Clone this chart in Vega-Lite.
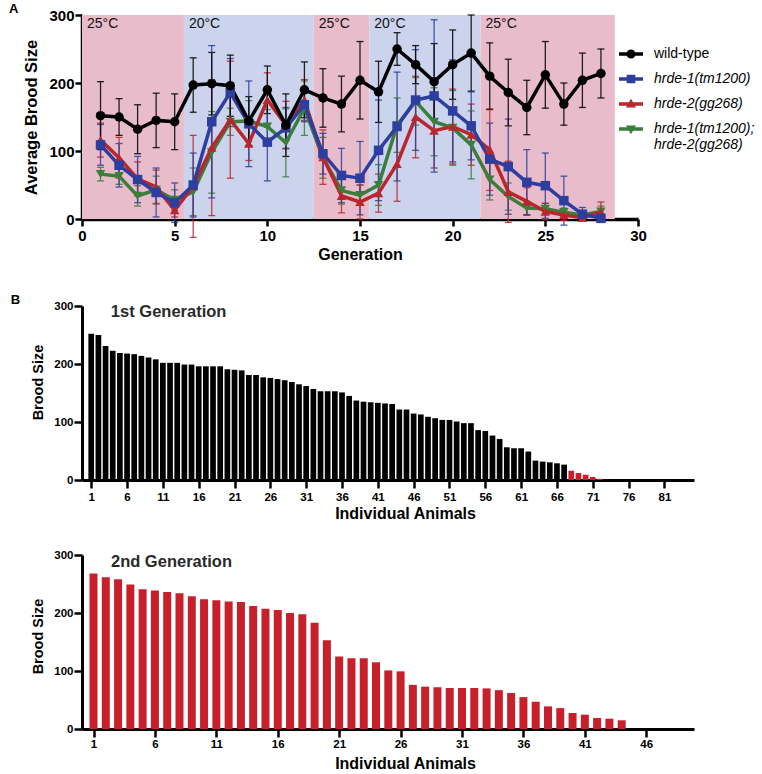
{
  "$schema": "https://vega.github.io/schema/vega-lite/v6.json",
  "background": "white",
  "padding": {"left": 8, "top": 3, "right": 0, "bottom": 0},
  "config": {
    "font": "Liberation Sans",
    "view": {"stroke": null},
    "axis": {"domainColor": "#000", "tickColor": "#000", "labelColor": "#000", "titleColor": "#000", "labelFontWeight": "bold", "titleFontWeight": "bold", "grid": false, "labelFont": "Liberation Sans", "titleFont": "Liberation Sans", "labelOverlap": false, "labelFlush": false},
    "title": {"font": "Liberation Sans", "fontWeight": "bold", "color": "#000"}
  },
  "datasets": {
    "a": [
      {"g":1,"s":"hrde-1(tm1200); hrde-2(gg268)","m":66,"e":10},{"g":2,"s":"hrde-1(tm1200); hrde-2(gg268)","m":63,"e":12},{"g":3,"s":"hrde-1(tm1200); hrde-2(gg268)","m":34,"e":15},{"g":4,"s":"hrde-1(tm1200); hrde-2(gg268)","m":43,"e":20},{"g":5,"s":"hrde-1(tm1200); hrde-2(gg268)","m":28,"e":15},{"g":6,"s":"hrde-1(tm1200); hrde-2(gg268)","m":40,"e":35},{"g":7,"s":"hrde-1(tm1200); hrde-2(gg268)","m":98,"e":60},{"g":8,"s":"hrde-1(tm1200); hrde-2(gg268)","m":143,"e":20},{"g":9,"s":"hrde-1(tm1200); hrde-2(gg268)","m":144,"e":30},{"g":10,"s":"hrde-1(tm1200); hrde-2(gg268)","m":136,"e":25},{"g":11,"s":"hrde-1(tm1200); hrde-2(gg268)","m":112,"e":50},{"g":12,"s":"hrde-1(tm1200); hrde-2(gg268)","m":163,"e":40},{"g":13,"s":"hrde-1(tm1200); hrde-2(gg268)","m":90,"e":30},{"g":14,"s":"hrde-1(tm1200); hrde-2(gg268)","m":42,"e":20},{"g":15,"s":"hrde-1(tm1200); hrde-2(gg268)","m":35,"e":15},{"g":16,"s":"hrde-1(tm1200); hrde-2(gg268)","m":50,"e":30},{"g":17,"s":"hrde-1(tm1200); hrde-2(gg268)","m":138,"e":40},{"g":18,"s":"hrde-1(tm1200); hrde-2(gg268)","m":173,"e":35},{"g":19,"s":"hrde-1(tm1200); hrde-2(gg268)","m":143,"e":50},{"g":20,"s":"hrde-1(tm1200); hrde-2(gg268)","m":134,"e":55},{"g":21,"s":"hrde-1(tm1200); hrde-2(gg268)","m":109,"e":50},{"g":22,"s":"hrde-1(tm1200); hrde-2(gg268)","m":58,"e":30},{"g":23,"s":"hrde-1(tm1200); hrde-2(gg268)","m":33,"e":20},{"g":24,"s":"hrde-1(tm1200); hrde-2(gg268)","m":16,"e":10},{"g":25,"s":"hrde-1(tm1200); hrde-2(gg268)","m":15,"e":8},{"g":26,"s":"hrde-1(tm1200); hrde-2(gg268)","m":10,"e":6},{"g":27,"s":"hrde-1(tm1200); hrde-2(gg268)","m":6,"e":4},{"g":28,"s":"hrde-1(tm1200); hrde-2(gg268)","m":11,"e":8},
      {"g":1,"s":"hrde-2(gg268)","m":116,"e":25},{"g":2,"s":"hrde-2(gg268)","m":90,"e":30},{"g":3,"s":"hrde-2(gg268)","m":59,"e":25},{"g":4,"s":"hrde-2(gg268)","m":47,"e":25},{"g":5,"s":"hrde-2(gg268)","m":13,"e":10},{"g":6,"s":"hrde-2(gg268)","m":48,"e":75},{"g":7,"s":"hrde-2(gg268)","m":105,"e":100},{"g":8,"s":"hrde-2(gg268)","m":146,"e":86},{"g":9,"s":"hrde-2(gg268)","m":111,"e":25},{"g":10,"s":"hrde-2(gg268)","m":175,"e":40},{"g":11,"s":"hrde-2(gg268)","m":138,"e":35},{"g":12,"s":"hrde-2(gg268)","m":175,"e":30},{"g":13,"s":"hrde-2(gg268)","m":91,"e":40},{"g":14,"s":"hrde-2(gg268)","m":34,"e":25},{"g":15,"s":"hrde-2(gg268)","m":25,"e":25},{"g":16,"s":"hrde-2(gg268)","m":38,"e":28},{"g":17,"s":"hrde-2(gg268)","m":81,"e":55},{"g":18,"s":"hrde-2(gg268)","m":150,"e":60},{"g":19,"s":"hrde-2(gg268)","m":130,"e":55},{"g":20,"s":"hrde-2(gg268)","m":136,"e":55},{"g":21,"s":"hrde-2(gg268)","m":124,"e":45},{"g":22,"s":"hrde-2(gg268)","m":102,"e":60},{"g":23,"s":"hrde-2(gg268)","m":40,"e":45},{"g":24,"s":"hrde-2(gg268)","m":26,"e":20},{"g":25,"s":"hrde-2(gg268)","m":11,"e":12},{"g":26,"s":"hrde-2(gg268)","m":6,"e":8},{"g":27,"s":"hrde-2(gg268)","m":2,"e":3},{"g":28,"s":"hrde-2(gg268)","m":10,"e":15},
      {"g":1,"s":"hrde-1(tm1200)","m":109,"e":30},{"g":2,"s":"hrde-1(tm1200)","m":79,"e":32},{"g":3,"s":"hrde-1(tm1200)","m":58,"e":34},{"g":4,"s":"hrde-1(tm1200)","m":39,"e":36},{"g":5,"s":"hrde-1(tm1200)","m":24,"e":29},{"g":6,"s":"hrde-1(tm1200)","m":50,"e":47},{"g":7,"s":"hrde-1(tm1200)","m":143,"e":112},{"g":8,"s":"hrde-1(tm1200)","m":186,"e":50},{"g":9,"s":"hrde-1(tm1200)","m":140,"e":63},{"g":10,"s":"hrde-1(tm1200)","m":113,"e":57},{"g":11,"s":"hrde-1(tm1200)","m":134,"e":30},{"g":12,"s":"hrde-1(tm1200)","m":168,"e":25},{"g":13,"s":"hrde-1(tm1200)","m":96,"e":30},{"g":14,"s":"hrde-1(tm1200)","m":64,"e":40},{"g":15,"s":"hrde-1(tm1200)","m":60,"e":54},{"g":16,"s":"hrde-1(tm1200)","m":101,"e":74},{"g":17,"s":"hrde-1(tm1200)","m":136,"e":80},{"g":18,"s":"hrde-1(tm1200)","m":175,"e":74},{"g":19,"s":"hrde-1(tm1200)","m":181,"e":112},{"g":20,"s":"hrde-1(tm1200)","m":159,"e":75},{"g":21,"s":"hrde-1(tm1200)","m":137,"e":50},{"g":22,"s":"hrde-1(tm1200)","m":88,"e":53},{"g":23,"s":"hrde-1(tm1200)","m":77,"e":70},{"g":24,"s":"hrde-1(tm1200)","m":54,"e":48},{"g":25,"s":"hrde-1(tm1200)","m":49,"e":48},{"g":26,"s":"hrde-1(tm1200)","m":27,"e":36},{"g":27,"s":"hrde-1(tm1200)","m":7,"e":10},{"g":28,"s":"hrde-1(tm1200)","m":1,"e":5},
      {"g":1,"s":"wild-type","m":152,"e":50},{"g":2,"s":"wild-type","m":150,"e":27},{"g":3,"s":"wild-type","m":132,"e":36},{"g":4,"s":"wild-type","m":145,"e":40},{"g":5,"s":"wild-type","m":143,"e":41},{"g":6,"s":"wild-type","m":197,"e":40},{"g":7,"s":"wild-type","m":199,"e":46},{"g":8,"s":"wild-type","m":196,"e":45},{"g":9,"s":"wild-type","m":144,"e":36},{"g":10,"s":"wild-type","m":190,"e":35},{"g":11,"s":"wild-type","m":138,"e":46},{"g":12,"s":"wild-type","m":190,"e":41},{"g":13,"s":"wild-type","m":178,"e":43},{"g":14,"s":"wild-type","m":169,"e":41},{"g":15,"s":"wild-type","m":204,"e":57},{"g":16,"s":"wild-type","m":187,"e":45},{"g":17,"s":"wild-type","m":250,"e":24},{"g":18,"s":"wild-type","m":227,"e":28},{"g":19,"s":"wild-type","m":202,"e":56},{"g":20,"s":"wild-type","m":227,"e":51},{"g":21,"s":"wild-type","m":244,"e":56},{"g":22,"s":"wild-type","m":210,"e":49},{"g":23,"s":"wild-type","m":186,"e":49},{"g":24,"s":"wild-type","m":164,"e":40},{"g":25,"s":"wild-type","m":212,"e":49},{"g":26,"s":"wild-type","m":169,"e":31},{"g":27,"s":"wild-type","m":204,"e":40},{"g":28,"s":"wild-type","m":214,"e":36}
    ],
    "bands": [
      {"t":"25°C","a":0,"b":5.5},{"t":"20°C","a":5.5,"b":12.5},{"t":"25°C","a":12.5,"b":15.5},{"t":"20°C","a":15.5,"b":21.5},{"t":"25°C","a":21.5,"b":28.75}
    ],
    "b1": [
      {"n":1,"b":252},{"n":2,"b":250},{"n":3,"b":231},{"n":4,"b":223},{"n":5,"b":219},{"n":6,"b":218},{"n":7,"b":217},{"n":8,"b":214},{"n":9,"b":211},{"n":10,"b":208},
      {"n":11,"b":202},{"n":12,"b":202},{"n":13,"b":202},{"n":14,"b":199},{"n":15,"b":199},{"n":16,"b":196},{"n":17,"b":196},{"n":18,"b":196},{"n":19,"b":196},{"n":20,"b":191},
      {"n":21,"b":190},{"n":22,"b":189},{"n":23,"b":181},{"n":24,"b":181},{"n":25,"b":177},{"n":26,"b":176},{"n":27,"b":174},{"n":28,"b":172},{"n":29,"b":169},{"n":30,"b":165},
      {"n":31,"b":162},{"n":32,"b":157},{"n":33,"b":153},{"n":34,"b":153},{"n":35,"b":153},{"n":36,"b":151},{"n":37,"b":145},{"n":38,"b":137},{"n":39,"b":135},{"n":40,"b":134},
      {"n":41,"b":133},{"n":42,"b":132},{"n":43,"b":131},{"n":44,"b":121.5},{"n":45,"b":121.5},{"n":46,"b":114.6},{"n":47,"b":113},{"n":48,"b":109},{"n":49,"b":106.5},{"n":50,"b":103.6},
      {"n":51,"b":103.6},{"n":52,"b":100.8},{"n":53,"b":98},{"n":54,"b":98},{"n":55,"b":86},{"n":56,"b":84.6},{"n":57,"b":76.6},{"n":58,"b":70.8},{"n":59,"b":56.4},{"n":60,"b":54.7},
      {"n":61,"b":54.7},{"n":62,"b":49},{"n":63,"b":33.4},{"n":64,"b":31.7},{"n":65,"b":30.5},{"n":66,"b":28.8},{"n":67,"b":26.5},{"n":68,"b":16},{"n":69,"b":12},{"n":70,"b":9},
      {"n":71,"b":5},{"n":72,"b":2}
    ],
    "b2": [
      {"n":1,"b":268},{"n":2,"b":261.5},{"n":3,"b":258},{"n":4,"b":249},{"n":5,"b":241},{"n":6,"b":239},{"n":7,"b":236},{"n":8,"b":234},{"n":9,"b":229},{"n":10,"b":223.6},
      {"n":11,"b":222},{"n":12,"b":220},{"n":13,"b":219},{"n":14,"b":212},{"n":15,"b":207.5},{"n":16,"b":205},{"n":17,"b":200},{"n":18,"b":198},{"n":19,"b":183},{"n":20,"b":153},
      {"n":21,"b":125},{"n":22,"b":122},{"n":23,"b":122},{"n":24,"b":115},{"n":25,"b":101},{"n":26,"b":99.4},{"n":27,"b":76},{"n":28,"b":73},{"n":29,"b":72},{"n":30,"b":70.7},
      {"n":31,"b":70.7},{"n":32,"b":70.7},{"n":33,"b":70},{"n":34,"b":67},{"n":35,"b":62},{"n":36,"b":55},{"n":37,"b":47},{"n":38,"b":39},{"n":39,"b":36},{"n":40,"b":27.6},
      {"n":41,"b":24.7},{"n":42,"b":19},{"n":43,"b":17.8},{"n":44,"b":15}
    ],
    "lab1": [{"label":"1st Generation"}],
    "lab2": [{"label":"2nd Generation"}]
  },
  "bounds": "flush",
  "spacing": 87,
  "vconcat": [
    {
      "width": 556,
      "height": 204,
      "title": {"text": "A", "anchor": "start", "frame": "bounds", "fontSize": 13, "dx": -15, "offset": -8},
      "data": {"name": "a"},
      "layer": [
        {
          "data": {"name": "bands"},
          "mark": {"type": "rect"},
          "encoding": {
            "x": {"field": "a", "type": "quantitative", "title": "Generation", "scale": {"domain": [0, 30], "nice": false, "zero": false},
                  "axis": {"values": [0,5,10,15,20,25,30], "labelFontSize": 15, "titleFontSize": 16, "domainWidth": 3.5, "tickWidth": 2.5, "tickSize": 7, "labelPadding": 2, "titlePadding": 3, "labelOverlap": false}},
            "x2": {"field": "b"},
            "y": {"datum": 300, "type": "quantitative", "title": "Average Brood Size", "scale": {"domain": [0, 300], "nice": false},
                  "axis": {"values": [0,50,100,150,200,250,300], "labelFontSize": 15, "titleFontSize": 16.5, "domainWidth": 3.5, "tickWidth": 2.5, "tickSize": 7, "labelPadding": 1, "titlePadding": 9, "labelOverlap": false}},
            "y2": {"datum": 0},
            "fill": {"field": "t", "type": "nominal", "scale": {"domain": ["25°C", "20°C"], "range": ["#e9bccb", "#cbd4ec"]}, "legend": null}
          }
        },
        {
          "data": {"name": "bands"},
          "mark": {"type": "text", "align": "left", "baseline": "top", "dx": 5, "dy": 2, "fontSize": 14, "color": "#111"},
          "encoding": {
            "x": {"field": "a", "type": "quantitative", "title": "Generation"},
            "y": {"datum": 300, "type": "quantitative", "title": "Average Brood Size"},
            "text": {"field": "t"}
          }
        },
        {
          "mark": {"type": "errorbar", "ticks": {"size": 7}, "thickness": 1.3, "opacity": 0.85},
          "encoding": {
            "x": {"field": "g", "type": "quantitative", "title": "Generation"},
            "y": {"field": "m", "type": "quantitative", "title": "Average Brood Size"},
            "yError": {"field": "e"},
            "color": {"field": "s", "type": "nominal", "scale": {"domain": ["wild-type", "hrde-1(tm1200)", "hrde-2(gg268)", "hrde-1(tm1200); hrde-2(gg268)"], "range": ["#000000", "#2d3e9e", "#b8272d", "#3b7d3a"]}, "legend": null}
          }
        },
        {
          "mark": {"type": "line", "strokeWidth": 3.5},
          "encoding": {
            "x": {"field": "g", "type": "quantitative", "title": "Generation"},
            "y": {"field": "m", "type": "quantitative", "title": "Average Brood Size"},
            "color": {"field": "s", "type": "nominal", "scale": {"domain": ["wild-type", "hrde-1(tm1200)", "hrde-2(gg268)", "hrde-1(tm1200); hrde-2(gg268)"], "range": ["#000000", "#2d3e9e", "#b8272d", "#3b7d3a"]}, "legend": null}
          }
        },
        {
          "mark": {"type": "point", "filled": true, "size": 90, "opacity": 1},
          "encoding": {
            "x": {"field": "g", "type": "quantitative", "title": "Generation"},
            "y": {"field": "m", "type": "quantitative", "title": "Average Brood Size"},
            "color": {"field": "s", "type": "nominal", "scale": {"domain": ["wild-type", "hrde-1(tm1200)", "hrde-2(gg268)", "hrde-1(tm1200); hrde-2(gg268)"], "range": ["#000000", "#2d3e9e", "#b8272d", "#3b7d3a"]}, "legend": null},
            "shape": {"field": "s", "type": "nominal", "scale": {"domain": ["wild-type", "hrde-1(tm1200)", "hrde-2(gg268)", "hrde-1(tm1200); hrde-2(gg268)"], "range": ["circle", "square", "triangle-up", "triangle-down"]}, "legend": null}
          }
        },
        {
          "transform": [{"filter": "false"}],
          "mark": {"type": "point", "filled": true, "opacity": 1},
          "encoding": {
            "x": {"field": "g", "type": "quantitative", "title": "Generation"},
            "y": {"field": "m", "type": "quantitative", "title": "Average Brood Size"},
            "color": {"field": "s", "type": "nominal", "scale": {"domain": ["wild-type", "hrde-1(tm1200)", "hrde-2(gg268)", "hrde-1(tm1200); hrde-2(gg268)"], "range": ["#000000", "#2d3e9e", "#b8272d", "#3b7d3a"]},
                      "legend": {"orient": "none", "legendX": 537, "legendY": 27, "title": null, "padding": 0, "symbolSize": 576, "symbolStrokeWidth": 0, "labelFontSize": 14, "labelColor": "#000", "labelOffset": 11, "labelLimit": 400, "rowPadding": 6,
                                 "labelFontStyle": {"expr": "datum.value == 'wild-type' ? 'normal' : 'italic'"},
                                 "labelExpr": "datum.label == 'hrde-1(tm1200); hrde-2(gg268)' ? ['hrde-1(tm1200);', 'hrde-2(gg268)'] : datum.label"}},
            "shape": {"field": "s", "type": "nominal", "scale": {"domain": ["wild-type", "hrde-1(tm1200)", "hrde-2(gg268)", "hrde-1(tm1200); hrde-2(gg268)"],
                      "range": ["M-1,-0.14H1V0.14H-1Z M-0.38,0A0.38,0.38 0 1,1 0.38,0A0.38,0.38 0 1,1 -0.38,0Z", "M-1,-0.14H1V0.14H-1Z M-0.36,-0.36H0.36V0.36H-0.36Z", "M-1,-0.14H1V0.14H-1Z M0,-0.44L0.42,0.3L-0.42,0.3Z", "M-1,-0.14H1V0.14H-1Z M-0.42,-0.3L0.42,-0.3L0,0.44Z"]},
                      "legend": {"orient": "none", "legendX": 537, "legendY": 27, "title": null, "padding": 0, "symbolSize": 576, "symbolStrokeWidth": 0, "labelFontSize": 14, "labelColor": "#000", "labelOffset": 11, "labelLimit": 400, "rowPadding": 6,
                                 "labelFontStyle": {"expr": "datum.value == 'wild-type' ? 'normal' : 'italic'"},
                                 "labelExpr": "datum.label == 'hrde-1(tm1200); hrde-2(gg268)' ? ['hrde-1(tm1200);', 'hrde-2(gg268)'] : datum.label"}}
          }
        }
      ],
      "resolve": {"scale": {"color": "independent", "shape": "independent"}}
    },
    {
      "bounds": "flush",
      "spacing": 75,
      "vconcat": [
        {
          "width": 612,
          "height": 174,
          "title": {"text": "B", "anchor": "start", "frame": "bounds", "fontSize": 13, "dx": -20, "offset": -7},
          "layer": [
            {
              "data": {"name": "b1"},
              "mark": {"type": "bar", "size": 5.7},
              "encoding": {
                "x": {"field": "n", "type": "quantitative", "title": "Individual Animals", "scale": {"domain": [0.41, 84.43], "nice": false, "zero": false},
                      "axis": {"values": [1,6,11,16,21,26,31,36,41,46,51,56,61,66,71,76,81], "labelFontSize": 11.5, "titleFontSize": 16, "tickSize": 8, "tickWidth": 2.5, "domainWidth": 3, "labelPadding": 3, "titlePadding": 3, "titleX": 323, "labelOverlap": false, "labelSeparation": 0}},
                "y": {"field": "b", "type": "quantitative", "title": "Brood Size", "scale": {"domain": [0, 300], "nice": false},
                      "axis": {"values": [0,100,200,300], "labelFontSize": 11.5, "titleFontSize": 14.5, "tickSize": 8, "tickWidth": 2.5, "domainWidth": 3, "labelPadding": 1, "titlePadding": 8, "titleY": 76, "labelOverlap": false}},
                "color": {"condition": {"test": "datum.b < 20", "value": "#c8202b"}, "value": "#000000"}
              }
            },
            {
              "data": {"name": "lab1"},
              "mark": {"type": "text", "align": "left", "baseline": "middle", "fontSize": 16.5, "fontWeight": "bold", "color": "#2a2a2a"},
              "encoding": {
                "x": {"datum": 3.74, "type": "quantitative", "title": "Individual Animals", "axis": {"values": [1,6,11,16,21,26,31,36,41,46,51,56,61,66,71,76,81], "labelOverlap": false}},
                "y": {"datum": 289, "type": "quantitative", "title": "Brood Size", "axis": {"values": [0,100,200,300], "labelOverlap": false}},
                "text": {"field": "label"}
              }
            }
          ]
        },
        {
          "width": 612,
          "height": 174,
          "layer": [
            {
              "data": {"name": "b2"},
              "mark": {"type": "bar", "size": 8, "color": "#c8202b"},
              "encoding": {
                "x": {"field": "n", "type": "quantitative", "title": "Individual Animals", "scale": {"domain": [0.47, 49.48], "nice": false, "zero": false},
                      "axis": {"values": [1,6,11,16,21,26,31,36,41,46], "labelFontSize": 11.5, "titleFontSize": 16, "tickSize": 8, "tickWidth": 2.5, "domainWidth": 3, "labelPadding": 1, "titlePadding": 6, "titleX": 323, "labelOverlap": false}},
                "y": {"field": "b", "type": "quantitative", "title": "Brood Size", "scale": {"domain": [0, 300], "nice": false},
                      "axis": {"values": [0,100,200,300], "labelFontSize": 11.5, "titleFontSize": 14.5, "tickSize": 8, "tickWidth": 2.5, "domainWidth": 3, "labelPadding": 1, "titlePadding": 8, "titleY": 81, "labelOverlap": false}}
              }
            },
            {
              "data": {"name": "lab2"},
              "mark": {"type": "text", "align": "left", "baseline": "middle", "fontSize": 16.5, "fontWeight": "bold", "color": "#2a2a2a"},
              "encoding": {
                "x": {"datum": 2.42, "type": "quantitative", "title": "Individual Animals", "axis": {"values": [1,6,11,16,21,26,31,36,41,46], "labelOverlap": false}},
                "y": {"datum": 288, "type": "quantitative", "title": "Brood Size", "axis": {"values": [0,100,200,300], "labelOverlap": false}},
                "text": {"field": "label"}
              }
            }
          ]
        }
      ]
    }
  ]
}
